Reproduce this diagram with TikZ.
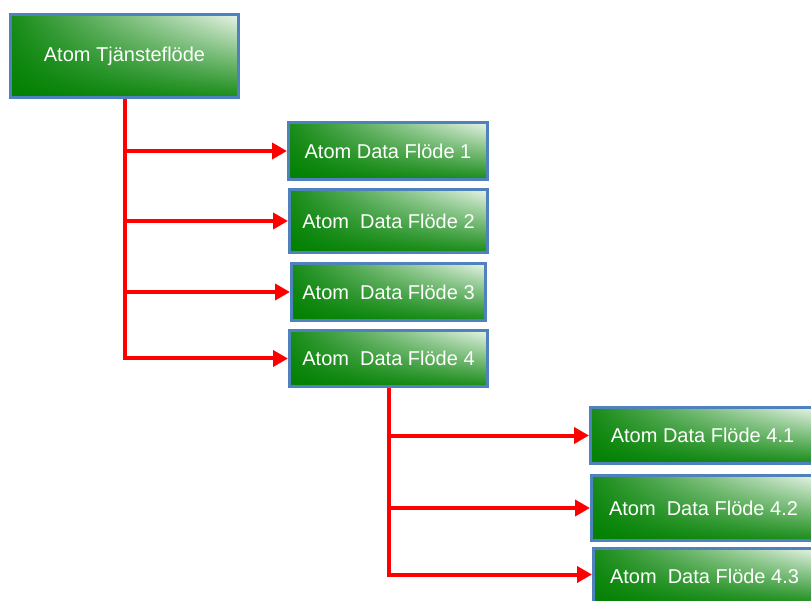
\documentclass[tikz,border=0pt]{standalone}
\usepackage{fontspec}
\setmainfont{Liberation Sans}
\usetikzlibrary{arrows.meta,shadings}
\definecolor{boxborder}{RGB}{79,129,189}
\definecolor{linkred}{RGB}{255,0,0}
\definecolor{greenlow}{RGB}{0,128,0}
\definecolor{greenside}{RGB}{25,140,25}
\definecolor{greenhigh}{RGB}{232,244,232}
\tikzset{
  flowbox/.style={rectangle, draw=boxborder, line width=3pt,
    upper right=greenhigh, upper left=greenside,
    lower right=greenside, lower left=greenlow,
    text=white, font=\fontsize{20}{24}\selectfont,
    inner sep=0pt, anchor=north west},
  link/.style={draw=linkred, line width=4pt,
    -{Triangle[length=15pt,width=16pt]}}
}
\begin{document}
\begin{tikzpicture}[x=1pt,y=-1pt]
\useasboundingbox (0,0) rectangle (811,601);
\clip (0,0) rectangle (811,601);
% root service flow
\node[flowbox, minimum width=228pt, minimum height=83pt] (root) at (9,13) {Atom Tjänsteflöde};
% first level data flows
\node[flowbox, minimum width=199pt, minimum height=57pt] (d1) at (287,121) {Atom Data Flöde 1};
\node[flowbox, minimum width=198pt, minimum height=63pt] (d2) at (288,188) {Atom\ \ Data Flöde 2};
\node[flowbox, minimum width=194pt, minimum height=57pt] (d3) at (290,262) {Atom\ \ Data Flöde 3};
\node[flowbox, minimum width=198pt, minimum height=56pt] (d4) at (288,329) {Atom\ \ Data Flöde 4};
% second level data flows
\node[flowbox, minimum width=224pt, minimum height=56pt] (d41) at (589,406) {Atom Data Flöde 4.1};
\node[flowbox, minimum width=224pt, minimum height=65pt] (d42) at (590,474) {Atom\ \ Data Flöde 4.2};
\node[flowbox, minimum width=222pt, minimum height=56pt] (d43) at (592,547) {Atom\ \ Data Flöde 4.3};
% connectors
\draw[link] (root.south) |- (d1.west);
\draw[link] (root.south) |- (d2.west);
\draw[link] (root.south) |- (d3.west);
\draw[link] (root.south) |- (d4.west);
\draw[link] (d4.south) |- (d41.west);
\draw[link] (d4.south) |- (d42.west);
\draw[link] (d4.south) |- ([yshift=2pt]d43.west);
\end{tikzpicture}
\end{document}
